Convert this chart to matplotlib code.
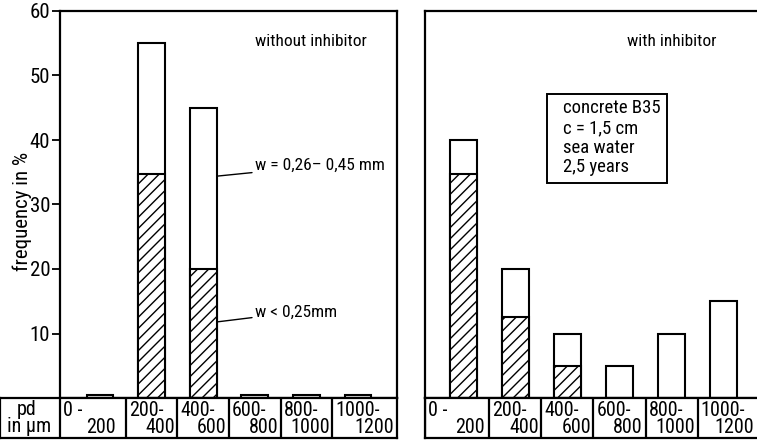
import matplotlib.pyplot as plt
import matplotlib.patches as mpatches
import numpy as np

plt.rcParams['font.family'] = ['Roboto Condensed', 'DejaVu Sans Condensed', 'DejaVu Sans']
plt.rcParams['hatch.linewidth'] = 1.0

# pore depth classes (pd in um)
class_lo = ['0 -', '200-', '400-', '600-', '800-', '1000-']
class_hi = ['200', '400', '600', '800', '1000', '1200']

# frequency in %: whole bar = all cracks, hatched part = w < 0,25 mm
without_total = [0.5, 55, 45, 0.5, 0.5, 0.5]
without_fine = [0, 34.7, 20, 0, 0, 0]
with_total = [40, 20, 10, 5, 10, 15]
with_fine = [34.8, 12.5, 5, 0, 0, 0]

W, H = 757, 440
fig = plt.figure(figsize=(W / 100, H / 100), dpi=100)


def px_axes(x0, y0, x1, y1):
    return fig.add_axes([x0 / W, 1 - y1 / H, (x1 - x0) / W, (y1 - y0) / H])


def draw_bars(ax, total, fine):
    x = np.arange(len(total))
    ax.bar(x, total, width=0.52, color='white', edgecolor='black', lw=1.5)
    idx = [i for i, v in enumerate(fine) if v > 0]
    ax.bar(x[idx], [fine[i] for i in idx], width=0.52, color='white',
           edgecolor='black', hatch='///', lw=1.5)
    ax.set_ylim(0, 60)
    ax.set_xticks([])
    for s in ax.spines.values():
        s.set_linewidth(1.6)


def draw_table(tb, xmin, xmax, first_left, first_pad):
    tb.set_xlim(xmin, xmax)
    tb.set_ylim(0, 1)
    tb.set_xticks([])
    tb.set_yticks([])
    for s in tb.spines.values():
        s.set_linewidth(1.6)
    bounds = [first_left, 0.5, 1.5, 2.5, 3.5, 4.5, xmax]
    for b in bounds[:-1]:
        tb.axvline(b, color='black', lw=1.6)
    for i in range(6):
        pad = first_pad if i == 0 else 0.05
        tb.text(bounds[i] + 0.06, 0.7, class_lo[i], ha='left', va='center', fontsize=14.5)
        tb.text(bounds[i + 1] - pad, 0.27, class_hi[i], ha='right', va='center', fontsize=14.5)


# left panel: without inhibitor
ax_l = px_axes(60, 11, 397, 398)
xl = (-0.775, 5.756)
draw_bars(ax_l, without_total, without_fine)
ax_l.set_xlim(*xl)
ax_l.set_yticks([10, 20, 30, 40, 50, 60])
ax_l.tick_params(axis='y', direction='out', length=6, width=1.3, pad=1, labelsize=15)
ax_l.text(0.579, 0.92, 'without inhibitor', transform=ax_l.transAxes,
          ha='left', va='center', fontsize=12.5)
arrow = dict(arrowstyle='-', lw=1.0, color='black', shrinkA=0, shrinkB=0)
ax_l.annotate('w = 0,26– 0,45 mm', xy=(2.27, 34.4), xytext=(3.0, 36.0),
              va='center', ha='left', fontsize=12.5, arrowprops=arrow)
ax_l.annotate('w < 0,25mm', xy=(2.27, 11.8), xytext=(3.0, 13.3),
              va='center', ha='left', fontsize=12.5, arrowprops=arrow)

# right panel: with inhibitor
ax_r = px_axes(425, 11, 757, 398)
xr = (-0.74, 5.644)
draw_bars(ax_r, with_total, with_fine)
ax_r.set_xlim(*xr)
ax_r.set_yticks([])
ax_r.spines['right'].set_visible(False)
ax_r.text(0.608, 0.92, 'with inhibitor', transform=ax_r.transAxes,
          ha='left', va='center', fontsize=12.5)
ax_r.add_patch(mpatches.Rectangle((0.3675, 0.5556), 0.3614, 0.23, transform=ax_r.transAxes,
                                  fc='white', ec='black', lw=1.4))
ax_r.text(0.416, 0.672, 'concrete B35\nc = 1,5 cm\nsea water\n2,5 years',
          transform=ax_r.transAxes, ha='left', va='center', fontsize=13.5,
          linespacing=1.12)

# class row under each panel
tb_l = px_axes(0, 398, 397, 438)
draw_table(tb_l, xl[0] - 60 / 51.6, xl[1], xl[0], 0.2)
tb_l.text(xl[0] - 33 / 51.6, 0.72, 'pd', ha='center', va='center', fontsize=14.5)
tb_l.text(xl[0] - 31 / 51.6, 0.28, 'in µm', ha='center', va='center', fontsize=14.5)

tb_r = px_axes(425, 398, 757, 438)
draw_table(tb_r, xr[0], xr[1], xr[0], 0.1)
tb_r.spines['right'].set_visible(False)

fig.text(22 / W, 1 - 211 / H, 'frequency in %', rotation=90,
         ha='center', va='center', fontsize=15)

fig.savefig('out.png', dpi=100)
